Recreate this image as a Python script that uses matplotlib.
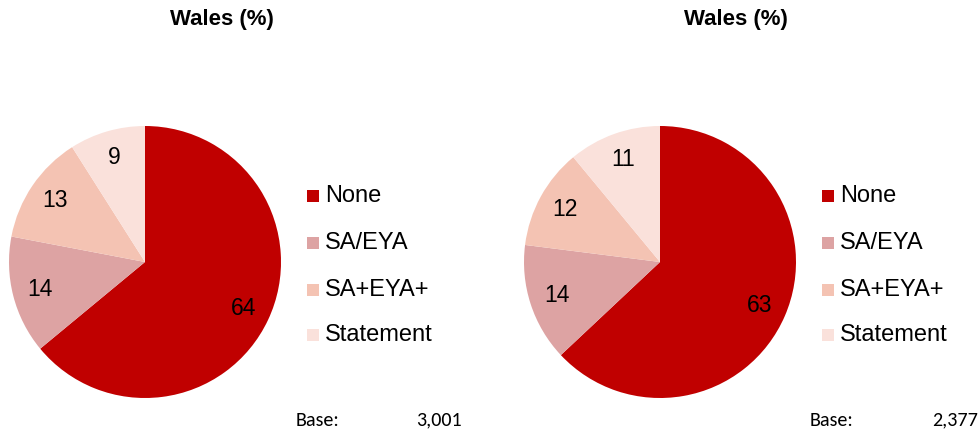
import matplotlib
matplotlib.use("Agg")
import matplotlib.pyplot as plt
from matplotlib.patches import Rectangle

plt.rcParams['font.family'] = ['Liberation Sans', 'DejaVu Sans']

categories = ["None", "SA/EYA", "SA+EYA+", "Statement"]
values_left = [64, 14, 13, 9]
values_right = [63, 14, 12, 11]
colors = ["#C00000", "#DDA3A3", "#F4C3B3", "#FAE1DB"]
titles = ["Wales (%)", "Wales (%)"]
bases = ["3,001", "2,377"]

W, H = 979, 436
fig = plt.figure(figsize=(W / 100, H / 100), dpi=100)

def px_ax(x0, y0, w, h):
    return fig.add_axes([x0 / W, 1 - (y0 + h) / H, w / W, h / H])

panels = [
    dict(vals=values_left, cx=145, cy=262, r=136, title_x=222, leg_x=307, base_x=296, base_r=462, base=bases[0], title=titles[0]),
    dict(vals=values_right, cx=660, cy=262, r=136, title_x=736, leg_x=822, base_x=810, base_r=978, base=bases[1], title=titles[1]),
]

for p in panels:
    ax = px_ax(p["cx"] - p["r"], p["cy"] - p["r"], 2 * p["r"], 2 * p["r"])
    wedges, texts = ax.pie(p["vals"], colors=colors, startangle=90, counterclock=False,
                           labels=[str(v) for v in p["vals"]], labeldistance=0.8,
                           textprops=dict(fontsize=16.5, color="black", ha="center", va="center"),
                           wedgeprops=dict(linewidth=0))
    ax.set_xlim(-1, 1)
    ax.set_ylim(-1, 1)
    ax.set_aspect("equal")
    ax.axis("off")

    fig.text(p["title_x"] / W, 1 - 20 / H, p["title"], ha="center", va="center",
             fontsize=16, fontweight="bold")

    rows_y = [196, 243, 290, 335]
    for cat, col, y in zip(categories, colors, rows_y):
        fig.patches.append(Rectangle(((p["leg_x"]) / W, 1 - (y + 6) / H), 12 / W, 12 / H,
                                     transform=fig.transFigure, facecolor=col, edgecolor="none"))
        fig.text((p["leg_x"] + 18) / W, 1 - y / H, cat, ha="left", va="center", fontsize=17)

    fig.text(p["base_x"] / W, 1 - 420 / H, "Base:", ha="left", va="center", fontsize=14.5,
             family=["Carlito", "Liberation Sans", "DejaVu Sans"])
    fig.text(p["base_r"] / W, 1 - 420 / H, p["base"], ha="right", va="center", fontsize=14.5,
             family=["Carlito", "Liberation Sans", "DejaVu Sans"])

fig.savefig("out.png", dpi=100)
